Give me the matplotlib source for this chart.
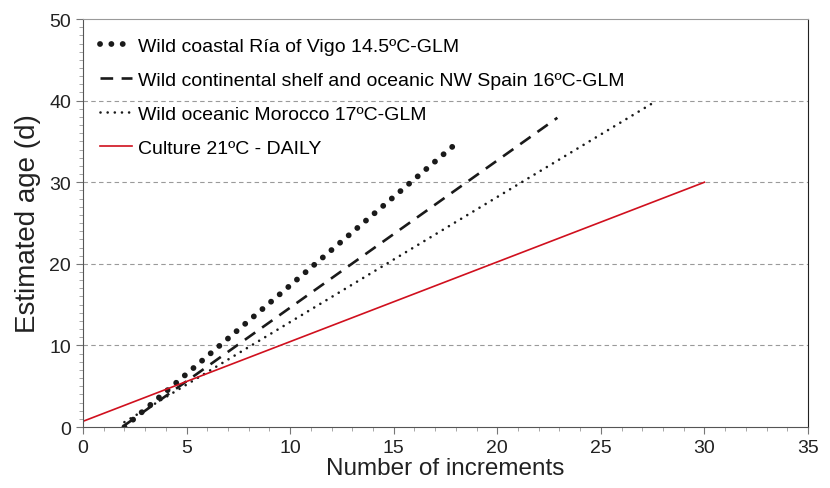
import matplotlib.pyplot as plt
from matplotlib.ticker import MultipleLocator

plt.rcParams['font.family'] = ['Liberation Sans', 'DejaVu Sans']

# Series (straight fitted lines, end points)
vigo_x = [2.0, 17.9]
vigo_y = [0.0, 34.5]
spain_x = [2.0, 22.9]
spain_y = [0.2, 37.9]
morocco_x = [2.0, 27.7]
morocco_y = [0.6, 40.0]
culture_x = [0.0, 30.0]
culture_y = [0.7, 30.0]

labels = ['Wild coastal Ría of Vigo 14.5ºC-GLM',
          'Wild continental shelf and oceanic NW Spain 16ºC-GLM',
          'Wild oceanic Morocco 17ºC-GLM',
          'Culture 21ºC - DAILY']

fig = plt.figure(figsize=(8.3, 4.89), dpi=100)
ax = fig.add_axes([0.1, 0.1247, 0.8735, 0.8343])

# Grid lines
for g in [10, 20, 30, 40]:
    ax.axhline(g, color='#9a9a9a', linestyle=(0, (4, 3)), linewidth=0.8, zorder=0)

ax.plot(vigo_x, vigo_y, color='#1a1a1a', linewidth=4.2,
        linestyle=(0, (0.01, 1.935)), dash_capstyle='round', label=labels[0])
ax.plot(spain_x, spain_y, color='#1a1a1a', linewidth=1.9,
        linestyle=(0, (4.8, 3.2)), label=labels[1])
ax.plot(morocco_x, morocco_y, color='#1a1a1a', linewidth=1.9,
        linestyle=(0, (0.01, 2.7)), dash_capstyle='round', label=labels[2])
ax.plot(culture_x, culture_y, color='#d0101e', linewidth=1.2, label=labels[3])

ax.set_xlim(0, 35)
ax.set_ylim(0, 50)
ax.xaxis.set_major_locator(MultipleLocator(5))
ax.xaxis.set_minor_locator(MultipleLocator(1))
ax.yaxis.set_major_locator(MultipleLocator(10))
ax.yaxis.set_minor_locator(MultipleLocator(1))
ax.tick_params(which='major', direction='out', length=5, color='#777777', labelsize=14, labelcolor='#222222')
ax.tick_params(which='minor', direction='out', length=3, color='#999999')

for side in ['left', 'bottom']:
    ax.spines[side].set_color('#555555')
ax.spines['top'].set_color('#9a9a9a')
ax.spines['right'].set_color('#222222')

ax.set_xlabel('Number of increments', fontsize=17.5, color='#222222', labelpad=1)
ax.set_ylabel('Estimated age (d)', fontsize=20, color='#222222', labelpad=6)

ax.legend(loc='upper left', bbox_to_anchor=(0.023, 0.955), frameon=False,
          fontsize=14, handlelength=1.65, handletextpad=0.3, labelspacing=0.84,
          borderpad=0, borderaxespad=0)

plt.savefig('out.png', dpi=100)
